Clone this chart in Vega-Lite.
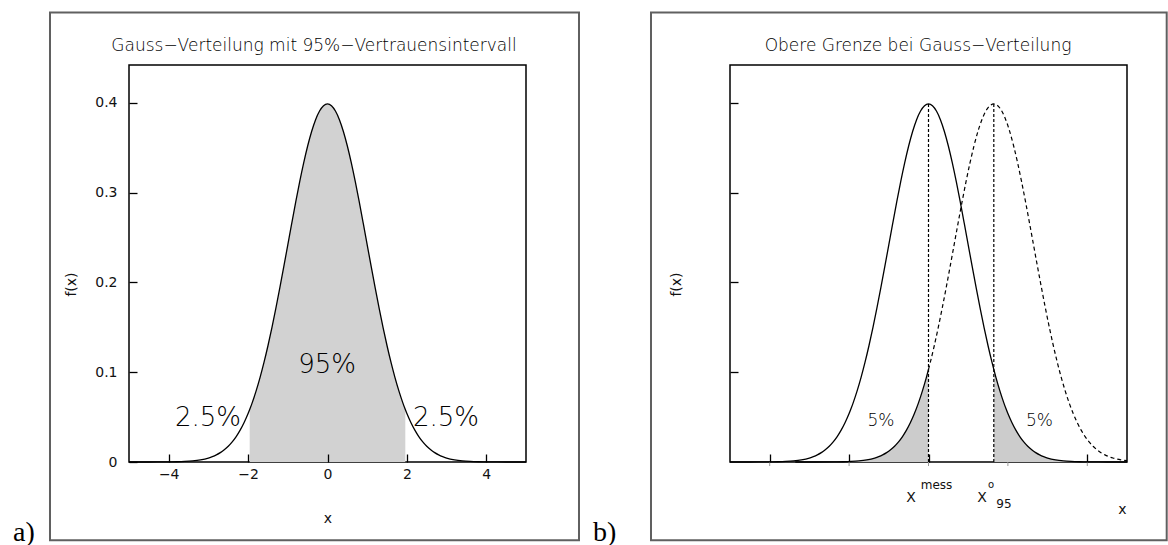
{
  "$schema": "https://vega.github.io/schema/vega-lite/v6.json",
  "padding": {"left": 12, "top": 10, "right": 0, "bottom": 0},
  "bounds": "flush",
  "spacing": 204,
  "background": "white",
  "config": {
    "font": "DejaVu Sans",
    "view": {"stroke": "black", "strokeWidth": 1.5},
    "axis": {"grid": false, "domain": false, "labelColor": "#111111", "titleColor": "#111111", "tickColor": "black", "labelFontSize": 14, "titleFontSize": 14, "labelFontWeight": "normal", "titleFontWeight": "normal", "labelFont": "DejaVu Sans", "titleFont": "DejaVu Sans"}
  },
  "datasets": {
    "g": [
      {"x": -5, "f": 0.0000015}, {"x": -4.5, "f": 0.000016}, {"x": -4, "f": 0.000134}, {"x": -3.8, "f": 0.000292},
      {"x": -3.6, "f": 0.000612}, {"x": -3.4, "f": 0.001232}, {"x": -3.2, "f": 0.002384}, {"x": -3, "f": 0.004432},
      {"x": -2.9, "f": 0.005953}, {"x": -2.8, "f": 0.007915}, {"x": -2.7, "f": 0.010421}, {"x": -2.6, "f": 0.013583},
      {"x": -2.5, "f": 0.017528}, {"x": -2.4, "f": 0.022395}, {"x": -2.3, "f": 0.028327}, {"x": -2.2, "f": 0.035475},
      {"x": -2.1, "f": 0.043984}, {"x": -2, "f": 0.053991}, {"x": -1.96, "f": 0.058441}, {"x": -1.9, "f": 0.065616},
      {"x": -1.8, "f": 0.07895}, {"x": -1.7, "f": 0.094049}, {"x": -1.6, "f": 0.110921}, {"x": -1.5, "f": 0.129518},
      {"x": -1.4, "f": 0.149727}, {"x": -1.3, "f": 0.171369}, {"x": -1.2, "f": 0.194186}, {"x": -1.1, "f": 0.217852},
      {"x": -1, "f": 0.241971}, {"x": -0.9, "f": 0.266085}, {"x": -0.8, "f": 0.289692}, {"x": -0.7, "f": 0.312254},
      {"x": -0.6, "f": 0.333225}, {"x": -0.5, "f": 0.352065}, {"x": -0.4, "f": 0.36827}, {"x": -0.3, "f": 0.381388},
      {"x": -0.2, "f": 0.391043}, {"x": -0.1, "f": 0.396953}, {"x": 0, "f": 0.398942},
      {"x": 0.1, "f": 0.396953}, {"x": 0.2, "f": 0.391043}, {"x": 0.3, "f": 0.381388}, {"x": 0.4, "f": 0.36827},
      {"x": 0.5, "f": 0.352065}, {"x": 0.6, "f": 0.333225}, {"x": 0.7, "f": 0.312254}, {"x": 0.8, "f": 0.289692},
      {"x": 0.9, "f": 0.266085}, {"x": 1, "f": 0.241971}, {"x": 1.1, "f": 0.217852}, {"x": 1.2, "f": 0.194186},
      {"x": 1.3, "f": 0.171369}, {"x": 1.4, "f": 0.149727}, {"x": 1.5, "f": 0.129518}, {"x": 1.6, "f": 0.110921},
      {"x": 1.645, "f": 0.103136}, {"x": 1.7, "f": 0.094049}, {"x": 1.8, "f": 0.07895}, {"x": 1.9, "f": 0.065616},
      {"x": 1.96, "f": 0.058441}, {"x": 2, "f": 0.053991}, {"x": 2.1, "f": 0.043984}, {"x": 2.2, "f": 0.035475},
      {"x": 2.3, "f": 0.028327}, {"x": 2.4, "f": 0.022395}, {"x": 2.5, "f": 0.017528}, {"x": 2.6, "f": 0.013583},
      {"x": 2.7, "f": 0.010421}, {"x": 2.8, "f": 0.007915}, {"x": 2.9, "f": 0.005953}, {"x": 3, "f": 0.004432},
      {"x": 3.2, "f": 0.002384}, {"x": 3.4, "f": 0.001232}, {"x": 3.6, "f": 0.000612}, {"x": 3.8, "f": 0.000292},
      {"x": 4, "f": 0.000134}, {"x": 4.5, "f": 0.000016}, {"x": 5, "f": 0.0000015}
    ],
    "h": [
      {"x": -3.355, "f": 0.0000015}, {"x": -2.855, "f": 0.000016}, {"x": -2.355, "f": 0.000134}, {"x": -2.155, "f": 0.000292},
      {"x": -1.955, "f": 0.000612}, {"x": -1.755, "f": 0.001232}, {"x": -1.555, "f": 0.002384}, {"x": -1.355, "f": 0.004432},
      {"x": -1.255, "f": 0.005953}, {"x": -1.155, "f": 0.007915}, {"x": -1.055, "f": 0.010421}, {"x": -0.955, "f": 0.013583},
      {"x": -0.855, "f": 0.017528}, {"x": -0.755, "f": 0.022395}, {"x": -0.655, "f": 0.028327}, {"x": -0.555, "f": 0.035475},
      {"x": -0.455, "f": 0.043984}, {"x": -0.355, "f": 0.053991}, {"x": -0.255, "f": 0.065616}, {"x": -0.155, "f": 0.07895},
      {"x": -0.055, "f": 0.094049}, {"x": 0, "f": 0.103136}, {"x": 0.045, "f": 0.110921}, {"x": 0.145, "f": 0.129518},
      {"x": 0.245, "f": 0.149727}, {"x": 0.345, "f": 0.171369}, {"x": 0.445, "f": 0.194186}, {"x": 0.545, "f": 0.217852},
      {"x": 0.645, "f": 0.241971}, {"x": 0.745, "f": 0.266085}, {"x": 0.845, "f": 0.289692}, {"x": 0.945, "f": 0.312254},
      {"x": 1.045, "f": 0.333225}, {"x": 1.145, "f": 0.352065}, {"x": 1.245, "f": 0.36827}, {"x": 1.345, "f": 0.381388},
      {"x": 1.445, "f": 0.391043}, {"x": 1.545, "f": 0.396953}, {"x": 1.645, "f": 0.398942}, {"x": 1.745, "f": 0.396953},
      {"x": 1.845, "f": 0.391043}, {"x": 1.945, "f": 0.381388}, {"x": 2.045, "f": 0.36827}, {"x": 2.145, "f": 0.352065},
      {"x": 2.245, "f": 0.333225}, {"x": 2.345, "f": 0.312254}, {"x": 2.445, "f": 0.289692}, {"x": 2.545, "f": 0.266085},
      {"x": 2.645, "f": 0.241971}, {"x": 2.745, "f": 0.217852}, {"x": 2.845, "f": 0.194186}, {"x": 2.945, "f": 0.171369},
      {"x": 3.045, "f": 0.149727}, {"x": 3.145, "f": 0.129518}, {"x": 3.245, "f": 0.110921}, {"x": 3.345, "f": 0.094049},
      {"x": 3.445, "f": 0.07895}, {"x": 3.545, "f": 0.065616}, {"x": 3.645, "f": 0.053991}, {"x": 3.745, "f": 0.043984},
      {"x": 3.845, "f": 0.035475}, {"x": 3.945, "f": 0.028327}, {"x": 4.045, "f": 0.022395}, {"x": 4.145, "f": 0.017528},
      {"x": 4.245, "f": 0.013583}, {"x": 4.345, "f": 0.010421}, {"x": 4.445, "f": 0.007915}, {"x": 4.545, "f": 0.005953},
      {"x": 4.645, "f": 0.004432}, {"x": 4.845, "f": 0.002384}, {"x": 5, "f": 0.001434}
    ]
  },
  "hconcat": [
    {
      "width": 397,
      "height": 397,
      "data": {"name": "g"},
      "encoding": {
        "x": {"field": "x", "type": "quantitative", "scale": {"domain": [-5, 5], "nice": false, "zero": false},
          "axis": {"values": [-4, -2, 0, 2, 4], "tickSize": -8, "tickWidth": 1.3, "labelPadding": 13, "title": "x", "titleY": 60, "titleBaseline": "alphabetic", "zindex": 1}},
        "y": {"field": "f", "type": "quantitative", "scale": {"domain": [0, 0.4423], "nice": false},
          "axis": {"values": [0, 0.1, 0.2, 0.3, 0.4], "format": "~g", "tickSize": -8, "tickWidth": 1.3, "labelPadding": 20, "title": "f(x)", "titleX": -58, "titleY": 219, "titleAlign": "center", "titleBaseline": "middle", "zindex": 1}}
      },
      "layer": [
        {"data": {"values": [{"x": -6.99, "xe": 6.335, "f": 0.5008, "fe": -0.0872}]}, "mark": {"type": "rect", "fill": null, "stroke": "#606060", "strokeWidth": 2},
          "encoding": {"x2": {"field": "xe"}, "y2": {"field": "fe"}}},
        {"data": {"values": [{"x": -7.92, "f": -0.0884, "t": "a)"}]}, "mark": {"type": "text", "font": "Liberation Serif", "fontSize": 28, "align": "left", "baseline": "alphabetic"},
          "encoding": {"text": {"field": "t"}}},
        {"data": {"values": [{"x": -0.34, "f": 0.4582, "t": "Gauss−Verteilung mit 95%−Vertrauensintervall"}]}, "mark": {"type": "text", "fontSize": 17, "fontWeight": 200, "color": "black", "align": "center", "baseline": "alphabetic"},
          "encoding": {"text": {"field": "t"}}},
        {"transform": [{"filter": "datum.x >= -1.96 && datum.x <= 1.96"}], "mark": {"type": "area", "fill": "#d2d2d2", "interpolate": "monotone"}},
        {"mark": {"type": "line", "stroke": "black", "strokeWidth": 1.3, "interpolate": "monotone"}},
        {"data": {"values": [{"x": -3.01, "f": 0.0398, "t": "2.5%"}, {"x": 2.985, "f": 0.0398, "t": "2.5%"}, {"x": -0.01, "f": 0.0989, "t": "95%"}]}, "mark": {"type": "text", "fontSize": 26, "fontWeight": 200, "color": "black", "align": "center", "baseline": "alphabetic"},
          "encoding": {"text": {"field": "t"}}}
      ]
    },
    {
      "width": 397,
      "height": 397,
      "data": {"name": "g"},
      "encoding": {
        "x": {"field": "x", "type": "quantitative", "scale": {"domain": [-5, 5], "nice": false, "zero": false},
          "axis": {"values": [-4, -2, 0, 2, 4], "tickSize": -8, "tickWidth": 1.3, "labels": false, "title": "x", "titleX": 392, "titleY": 51, "titleAlign": "center", "titleBaseline": "alphabetic", "zindex": 0}},
        "y": {"field": "f", "type": "quantitative", "scale": {"domain": [0, 0.4423], "nice": false},
          "axis": {"values": [0.1, 0.2, 0.3, 0.4], "tickSize": -8, "tickWidth": 1.3, "labels": false, "title": "f(x)", "titleX": -54, "titleY": 219, "titleAlign": "center", "titleBaseline": "middle", "zindex": 0}}
      },
      "layer": [
        {"data": {"values": [{"x": -6.99, "xe": 6.0, "f": 0.5008, "fe": -0.0872}]}, "mark": {"type": "rect", "fill": null, "stroke": "#606060", "strokeWidth": 2},
          "encoding": {"x2": {"field": "xe"}, "y2": {"field": "fe"}}},
        {"data": {"values": [{"x": -8.45, "f": -0.0884, "t": "b)"}]}, "mark": {"type": "text", "font": "Liberation Serif", "fontSize": 28, "align": "left", "baseline": "alphabetic"},
          "encoding": {"text": {"field": "t"}}},
        {"data": {"values": [{"x": -0.264, "f": 0.4582, "t": "Obere Grenze bei Gauss−Verteilung"}]}, "mark": {"type": "text", "fontSize": 17, "fontWeight": 200, "color": "black", "align": "center", "baseline": "alphabetic"},
          "encoding": {"text": {"field": "t"}}},
        {"data": {"values": [{"x": -4, "f": 0, "fe": -0.0045}, {"x": -2, "f": 0, "fe": -0.0045}, {"x": 0, "f": 0, "fe": -0.0045}, {"x": 2, "f": 0, "fe": -0.0045}, {"x": 4, "f": 0, "fe": -0.0045}]}, "mark": {"type": "rule", "stroke": "#999999", "strokeWidth": 1},
          "encoding": {"y2": {"field": "fe"}}},
        {"data": {"name": "h"}, "transform": [{"filter": "datum.x <= 0"}], "mark": {"type": "area", "fill": "#cccccc", "interpolate": "monotone"}},
        {"transform": [{"filter": "datum.x >= 1.645"}], "mark": {"type": "area", "fill": "#cccccc", "interpolate": "monotone"}},
        {"mark": {"type": "line", "stroke": "black", "strokeWidth": 1.3, "interpolate": "monotone"}},
        {"data": {"name": "h"}, "transform": [{"filter": "datum.x <= 0"}], "mark": {"type": "line", "stroke": "black", "strokeWidth": 1.3, "interpolate": "monotone"}},
        {"data": {"name": "h"}, "transform": [{"filter": "datum.x >= 0"}], "mark": {"type": "line", "stroke": "black", "strokeWidth": 1.2, "strokeDash": [4, 3], "interpolate": "monotone"}},
        {"data": {"values": [{"x": 0, "f": 0, "fe": 0.398942}, {"x": 1.645, "f": 0, "fe": 0.398942}]}, "mark": {"type": "rule", "stroke": "black", "strokeWidth": 1.2, "strokeDash": [3, 2]},
          "encoding": {"y2": {"field": "fe"}}},
        {"data": {"values": [{"x": -1.196, "f": 0.0398, "t": "5%"}, {"x": 2.796, "f": 0.0398, "t": "5%"}]}, "mark": {"type": "text", "fontSize": 17, "fontWeight": 200, "color": "black", "align": "center", "baseline": "alphabetic"},
          "encoding": {"text": {"field": "t"}}},
        {"data": {"values": [{"x": -0.441, "f": -0.0449, "t": "X"}, {"x": 1.348, "f": -0.0449, "t": "X"}]}, "mark": {"type": "text", "fontSize": 14, "color": "#111111", "align": "center", "baseline": "alphabetic"},
          "encoding": {"text": {"field": "t"}}},
        {"data": {"values": [{"x": 0.202, "f": -0.0304, "t": "mess"}]}, "mark": {"type": "text", "fontSize": 12, "color": "#111111", "align": "center", "baseline": "alphabetic"},
          "encoding": {"text": {"field": "t"}}},
        {"data": {"values": [{"x": 1.574, "f": -0.0294, "t": "o"}]}, "mark": {"type": "text", "fontSize": 10, "color": "#111111", "align": "center", "baseline": "alphabetic"},
          "encoding": {"text": {"field": "t"}}},
        {"data": {"values": [{"x": 1.902, "f": -0.0513, "t": "95"}]}, "mark": {"type": "text", "fontSize": 12, "color": "#111111", "align": "center", "baseline": "alphabetic"},
          "encoding": {"text": {"field": "t"}}}
      ]
    }
  ]
}
